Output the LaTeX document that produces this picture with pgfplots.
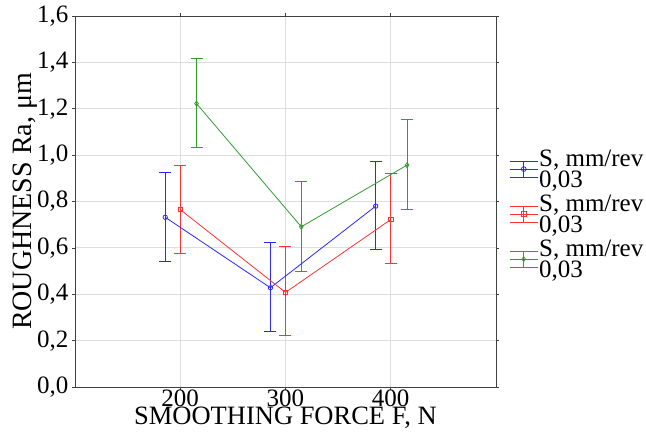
\documentclass[border=0pt]{standalone}
\usepackage{fontspec}
\setmainfont{Liberation Serif}
\usepackage{pgfplots}
\pgfplotsset{compat=1.18}
\definecolor{cblue}{RGB}{40,40,255}
\definecolor{cred}{RGB}{255,50,50}
\definecolor{cgreen}{RGB}{50,155,50}
\pgfplotsset{
  myleg/.style n args={2}{
    legend image code/.code={
      \draw[color=#1, line width=1pt] (0pt,-8pt) -- (28pt,-8pt);
      \draw[color=#1, line width=1pt] (0pt,8pt) -- (28pt,8pt);
      \draw[color=#1, line width=1pt] (0pt,0pt) -- (28pt,0pt);
      \draw[color=#1, line width=1pt] (14pt,-8pt) -- (14pt,8pt);
      \draw[color=#1, line width=0.8pt, mark=#2, mark size=2.4pt, mark options={fill=white}] plot coordinates {(14pt,0pt)};
    },
  },
  eb/.style={forget plot, color=#1, line width=1pt, mark=none,
    error bars/.cd, y dir=both, y explicit,
      error bar style={color=#1, line width=1pt, solid},
      error mark options={color=#1, line width=1pt, mark size=6pt, rotate=90}},
}
\newcommand{\eb}[5]{\addplot[eb=#1] coordinates {(#2,#3) += (0,#4) -= (0,#5)};}
\begin{document}
\begin{tikzpicture}
\begin{axis}[
  scale only axis,
  width=421pt, height=371pt,
  xmin=100, xmax=500, ymin=0, ymax=1.6,
  xtick={200,300,400}, ytick={0,0.2,...,1.6},
  grid=major,
  major grid style={draw=black!13, line width=0.8pt},
  axis line style={draw=black!75, line width=0.8pt},
  tick style={draw=black!75, line width=0.6pt},
  major tick length=3pt,
  tick align=outside,
  tick label style={font=\fontsize{25}{28}\selectfont},
  /pgf/number format/assume math mode=true,
  yticklabel style={/pgf/number format/.cd, fixed, fixed zerofill, precision=1, use comma},
  xticklabel style={inner sep=1pt, yshift=1pt, /pgf/number format/.cd, fixed, precision=0, 1000 sep={}},
  xlabel={SMOOTHING FORCE F, N},
  ylabel={ROUGHNESS Ra, μm},
  xlabel style={font=\fontsize{26.5}{28}\selectfont, inner sep=1pt, yshift=2pt},
  ylabel style={font=\fontsize{28}{30}\selectfont, yshift=-7pt},
  legend style={at={(1,0.466)}, anchor=west, xshift=10pt, draw=none, fill=none,
    font=\fontsize{25}{21}\selectfont, nodes={align=left, inner sep=1pt}, row sep=4pt},
  legend cell align=left,
]
% error bars (value, upper, lower)
\eb{cblue}{185.7}{0.732}{0.191}{0.192}
\eb{cblue}{285.7}{0.428}{0.194}{0.187}
\eb{cblue}{385.7}{0.780}{0.193}{0.189}
\eb{cred}{200}{0.765}{0.192}{0.190}
\eb{cred}{300}{0.408}{0.199}{0.188}
\eb{cred}{400}{0.722}{0.198}{0.189}
\eb{cgreen}{215.5}{1.222}{0.195}{0.190}
\eb{cgreen}{315.0}{0.691}{0.194}{0.192}
\eb{cgreen}{415.5}{0.957}{0.196}{0.191}
% means
\addplot[color=cblue, line width=0.8pt, mark=o, mark size=2.2pt, mark options={solid}, myleg={cblue}{o}]
  coordinates {(185.7,0.732) (285.7,0.428) (385.7,0.780)};
\addlegendentry{S, mm/rev\\0,03}
\addplot[color=cred, line width=0.8pt, mark=square, mark size=2.2pt, mark options={solid}, myleg={cred}{square}]
  coordinates {(200,0.765) (300,0.408) (400,0.722)};
\addlegendentry{S, mm/rev\\0,03}
\addplot[color=cgreen, line width=0.8pt, mark=diamond, mark size=2.5pt, mark options={solid}, myleg={cgreen}{diamond}]
  coordinates {(215.5,1.222) (315.0,0.691) (415.5,0.957)};
\addlegendentry{S, mm/rev\\0,03}
\end{axis}
\pgfresetboundingbox
\path (-75pt,-54pt) rectangle (571pt,387pt);
\end{tikzpicture}
\end{document}
